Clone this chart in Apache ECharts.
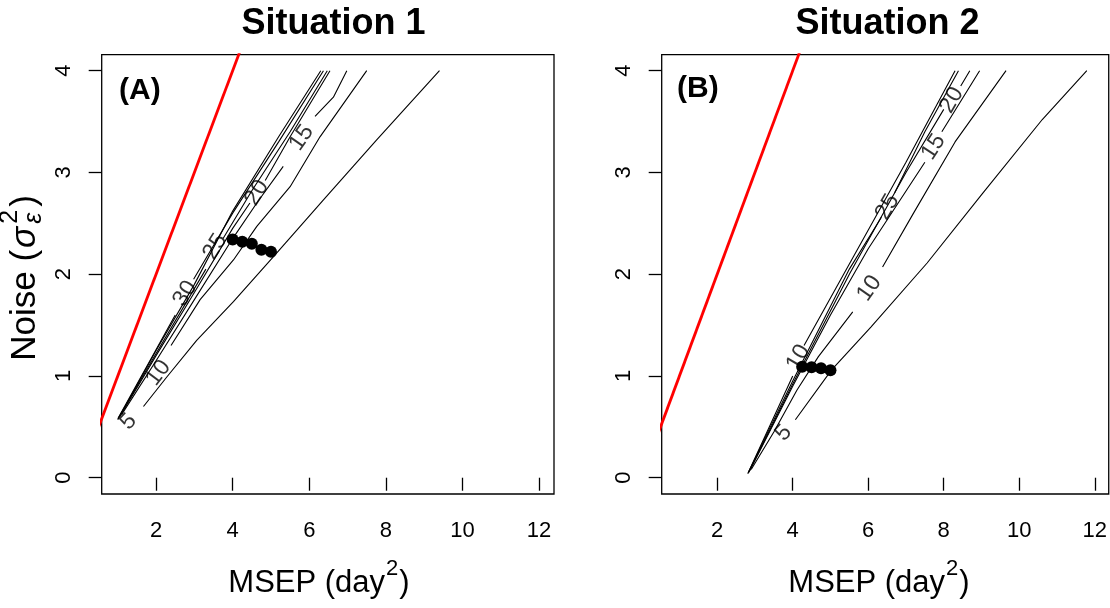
<!DOCTYPE html>
<html><head><meta charset="utf-8">
<script src="https://cdn.jsdelivr.net/npm/echarts@6/dist/echarts.min.js"></script>
<style>html,body{margin:0;padding:0;background:#fff}#c{width:1110px;height:608px}</style>
</head><body><div id="c"></div>
<script>
// ---------- data ----------
const xTicks = [2, 4, 6, 8, 10, 12];
const yTicks = [0, 1, 2, 3, 4];
const titles = ['Situation 1', 'Situation 2'];
const panelTags = ['(A)', '(B)'];
const refLine = [[0, 0], [5, 5]];

// Situation 1 contours
const s1_c5  = [[1.67,0.70],[2.28,0.99],[3.06,1.35],[4.02,1.73],[5.06,2.17],[5.67,2.43],[6.37,2.73],[7.76,3.32],[9.40,4.00]];
const s1_c10 = [[2.39,1.30],[3.15,1.75],[4.02,2.14],[4.63,2.47],[5.50,2.86],[6.28,3.35],[7.50,4.00]];
const s1_c15 = [[1.10,0.62],[2.00,1.15],[3.00,1.75],[4.00,2.35],[4.63,2.70],[5.32,3.06],'-',[6.15,3.55],[6.63,3.74],[6.98,4.00]];
const s1_c20 = [[1.05,0.60],[2.00,1.20],[3.00,1.82],[4.00,2.45],[4.45,2.70],'-',[4.85,2.92],[5.50,3.35],[6.54,4.00]];
const s1_c25 = [[1.02,0.59],[2.00,1.22],[3.30,2.05],'-',[3.75,2.35],[4.50,2.82],[5.50,3.40],[6.47,4.00]];
const s1_c30 = [[1.00,0.58],[2.50,1.60],'-',[2.98,1.95],[4.00,2.60],[5.20,3.30],[6.37,4.00]];
const s1_c35 = [[1.00,0.57],[2.00,1.25],[3.00,1.90],[4.00,2.62],[5.20,3.35],[6.30,4.00]];
const s1_labels = [[1.28,0.55,'5'],[2.06,1.03,'10'],[5.80,3.34,'15'],[4.63,2.80,'20'],[3.54,2.27,'25'],[2.76,1.81,'30']];
const s1_dots = [[4.00,2.34],[4.25,2.32],[4.50,2.30],[4.75,2.24],[5.00,2.22]];

// Situation 2 contours
const s2_c5  = [[4.07,0.57],[5.03,1.06],[6.07,1.48],[7.56,2.11],[9.04,2.80],[10.61,3.52],[11.79,4.00]];
const s2_c10 = [[2.90,0.08],[3.50,0.45],[4.11,0.86],[4.68,1.19],[5.59,1.63],'-',[6.38,2.07],[7.20,2.60],[8.30,3.30],[9.65,4.00]];
const s2_c15 = [[2.85,0.06],[4.00,0.90],[5.00,1.60],[6.00,2.25],[7.50,3.10],'-',[7.95,3.40],[8.95,4.00]];
const s2_c20 = [[2.83,0.05],[4.00,0.92],[5.50,2.00],[7.00,3.00],[8.00,3.62],'-',[8.45,3.85],[8.69,4.00]];
const s2_c25 = [[2.82,0.05],[4.00,0.95],[5.50,2.05],[6.35,2.56],'-',[6.70,2.80],[7.50,3.40],[8.39,4.00]];
const s2_c30 = [[2.81,0.04],[4.00,1.00],'-',[4.30,1.30],[5.50,2.10],[7.00,3.10],[8.30,4.00]];
const s2_labels = [[3.76,0.44,'5'],[6.03,1.86,'10'],[7.73,3.25,'15'],[8.21,3.71,'20'],[6.51,2.66,'25'],[4.15,1.18,'10']];
const s2_dots = [[4.25,1.09],[4.50,1.085],[4.75,1.075],[5.00,1.055]];

// ---------- chart ----------
const chart = echarts.init(document.getElementById('c'), null, {renderer: 'canvas'});
const FONT = '"Liberation Sans", Arial, Helvetica, sans-serif';

const grids = [
  {left: 101.7, top: 54.7, width: 452.3, height: 439.3},
  {left: 661.7, top: 54.7, width: 452.3, height: 439.3}
];
const xRange = [[0.58, 12.39], [0.53, 12.37]];
const yRange = [-0.16, 4.157];

function xAxisCfg(i) {
  return {
    gridIndex: i, type: 'value', min: xRange[i][0], max: xRange[i][1],
    splitLine: {show: false},
    axisLine: {show: false},
    axisTick: {show: true, customValues: xTicks, length: 13, lineStyle: {color: '#000', width: 1.3}},
    axisLabel: {show: true, customValues: xTicks, margin: 26, color: '#000', fontSize: 22, fontFamily: FONT}
  };
}
function yAxisCfg(i) {
  return {
    gridIndex: i, type: 'value', min: yRange[0], max: yRange[1],
    splitLine: {show: false},
    axisLine: {show: false},
    axisTick: {show: true, customValues: yTicks, length: 13, lineStyle: {color: '#000', width: 1.3}},
    axisLabel: {show: true, customValues: yTicks, rotate: 90, margin: 27, color: '#000', fontSize: 22, fontFamily: FONT}
  };
}

function contour(i, data) {
  return {type: 'line', xAxisIndex: i, yAxisIndex: i, data: data, symbol: 'none', silent: true,
    connectNulls: false, clip: true, lineStyle: {color: '#000', width: 1.1}, z: 3};
}
function labels(i, data, angles) {
  return {type: 'scatter', xAxisIndex: i, yAxisIndex: i, symbolSize: 0, silent: true, z: 4,
    data: data.map((d, k) => ({value: [d[0], d[1]], name: d[2],
      label: {show: true, position: 'inside', formatter: d[2], rotate: angles[k],
        color: '#000', fontSize: 23, fontFamily: FONT}}))};
}
function dots(i, data) {
  return {type: 'line', xAxisIndex: i, yAxisIndex: i, data: data, symbol: 'circle', symbolSize: 12,
    silent: true, itemStyle: {color: '#000'}, lineStyle: {color: '#000', width: 2}, z: 5};
}
function red(i) {
  return {type: 'line', xAxisIndex: i, yAxisIndex: i, data: refLine, symbol: 'none', silent: true, clip: true,
    lineStyle: {color: '#ff0000', width: 2.8}, z: 2};
}

const s1Angles = [47, 53, 55, 58, 58, 58];
const s2Angles = [48, 55, 57, 60, 60, 60];

const series = [
  red(0),
  contour(0, s1_c5), contour(0, s1_c10), contour(0, s1_c15), contour(0, s1_c20),
  contour(0, s1_c25), contour(0, s1_c30), contour(0, s1_c35),
  labels(0, s1_labels, s1Angles), dots(0, s1_dots),
  red(1),
  contour(1, s2_c5), contour(1, s2_c10), contour(1, s2_c15), contour(1, s2_c20),
  contour(1, s2_c25), contour(1, s2_c30),
  labels(1, s2_labels, s2Angles), dots(1, s2_dots)
];

// math-like labels built from measured text pieces
const mctx = document.createElement('canvas').getContext('2d');
function measure(t, size, style) {
  mctx.font = (style || '') + ' ' + size + 'px ' + FONT;
  return mctx.measureText(t).width;
}
function mathPieces(parts) {
  let x = 0; const out = [];
  parts.forEach(p => {
    out.push({type: 'text', x: x + (p.dx || 0), y: p.dy || 0,
      style: {text: p.t, fontSize: p.size, fontStyle: p.italic ? 'italic' : 'normal', fontFamily: FONT,
        fill: '#000', textAlign: 'left', textVerticalAlign: 'middle'}});
    if (!p.noAdvance) x += measure(p.t, p.size, p.italic ? 'italic' : '') + (p.dx || 0);
  });
  out.forEach(o => { o.x -= x / 2; });
  return out;
}

const xTitleParts = [{t: 'MSEP (day', size: 31}, {t: '2', size: 22, dy: -14, dx: 1}, {t: ')', size: 31, dx: 1}];
const yTitleParts = [{t: 'Noise (', size: 35}, {t: 'σ', size: 35, italic: true, dx: 2},
  {t: '2', size: 25, dy: -15, dx: 3, noAdvance: true}, {t: 'ε', size: 25, italic: true, dy: 9, dx: 3}, {t: ')', size: 35, dx: 6}];

const graphics = [];
[333.5, 887.5].forEach((cx, i) => {
  graphics.push({type: 'text', x: cx, y: 24.5, style: {text: titles[i], fontSize: 36, fontWeight: 'bold',
    fontFamily: FONT, fill: '#000', textAlign: 'center', textVerticalAlign: 'middle'}});
});
[[119, 91], [677, 89]].forEach((p, i) => {
  graphics.push({type: 'text', x: p[0], y: p[1], style: {text: panelTags[i], fontSize: 30, fontWeight: 'bold',
    fontFamily: FONT, fill: '#000', textAlign: 'left', textVerticalAlign: 'middle'}});
});
[319, 879].forEach(cx => {
  graphics.push({type: 'group', x: cx, y: 583, children: mathPieces(xTitleParts)});
});
graphics.push({type: 'group', x: 25, y: 278, rotation: Math.PI / 2, children: mathPieces(yTitleParts)});

chart.setOption({
  animation: false,
  backgroundColor: '#fff',
  grid: grids.map(g => Object.assign({show: true, borderColor: '#000', borderWidth: 1.3, backgroundColor: 'transparent'}, g)),
  xAxis: [xAxisCfg(0), xAxisCfg(1)],
  yAxis: [yAxisCfg(0), yAxisCfg(1)],
  series: series,
  graphic: graphics
});
</script></body></html>
